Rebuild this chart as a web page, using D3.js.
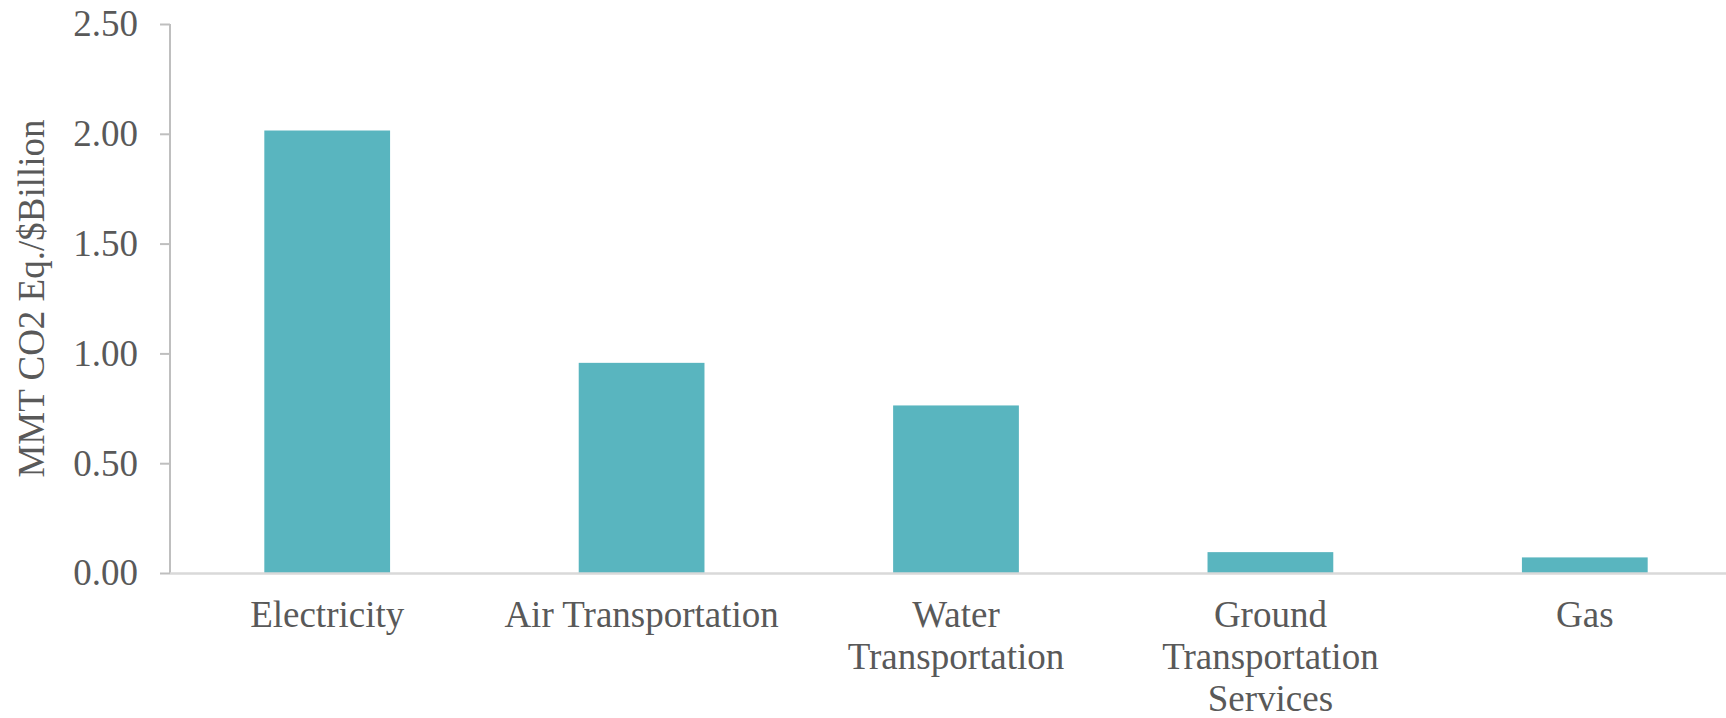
<!DOCTYPE html>
<html>
<head>
<meta charset="utf-8">
<script src="https://cdn.jsdelivr.net/npm/d3@7"></script>
<style>
  body { margin: 0; background: #fff; }
  text { font-family: "Liberation Serif", "DejaVu Serif", serif; fill: #595959; }
</style>
</head>
<body>
<script>
var categories = [["Electricity"], ["Air Transportation"], ["Water", "Transportation"], ["Ground", "Transportation", "Services"], ["Gas"]];
var values = [2.015, 0.957, 0.763, 0.095, 0.071];
var yTicks = [0, 0.5, 1.0, 1.5, 2.0, 2.5];
var yTitle = "MMT CO2 Eq./$Billion";

var W = 1726, H = 718;
var margin = { top: 24, left: 170 },
    plotW = 1572,
    plotH = 549;

var svg = d3.select("body").append("svg")
    .attr("width", W)
    .attr("height", H);

var g = svg.append("g")
    .attr("transform", "translate(" + margin.left + "," + margin.top + ")");

var x = d3.scaleBand()
    .domain(d3.range(categories.length))
    .range([0, plotW])
    .paddingInner(0.6)
    .paddingOuter(0.3);

var y = d3.scaleLinear()
    .domain([0, 2.5])
    .range([plotH, 0]);

// bars
g.selectAll("rect.bar")
    .data(values)
    .enter().append("rect")
    .attr("class", "bar")
    .attr("x", function (d, i) { return x(i); })
    .attr("width", x.bandwidth())
    .attr("y", function (d) { return y(d); })
    .attr("height", function (d) { return plotH - y(d); })
    .attr("fill", "#59b5bf");

// y axis
var yAxis = g.append("g")
    .call(d3.axisLeft(y)
        .tickValues(yTicks)
        .tickSize(10)
        .tickPadding(22)
        .tickFormat(d3.format(".2f")));
yAxis.attr("font-family", null);
yAxis.select(".domain").attr("stroke", "#bfbfbf").attr("stroke-width", 2).attr("d", "M0,0V" + plotH);
yAxis.selectAll(".tick line").attr("stroke", "#bfbfbf").attr("stroke-width", 2);
yAxis.selectAll(".tick text")
    .attr("fill", "#595959")
    .style("font-size", "37px");

// x axis line
g.append("line")
    .attr("x1", 0)
    .attr("x2", W - margin.left)
    .attr("y1", plotH + 0.5)
    .attr("y2", plotH + 0.5)
    .attr("stroke", "#d9d9d9")
    .attr("stroke-width", 2.5);

// category labels
var lab = g.selectAll("text.cat")
    .data(categories)
    .enter().append("text")
    .attr("class", "cat")
    .attr("text-anchor", "middle")
    .attr("font-size", "37px")
    .attr("x", function (d, i) { return x(i) + x.bandwidth() / 2; })
    .attr("y", plotH + 54);

lab.selectAll("tspan")
    .data(function (d) { return d; })
    .enter().append("tspan")
    .attr("x", function () { return d3.select(this.parentNode).attr("x"); })
    .attr("dy", function (d, i) { return i === 0 ? 0 : 42; })
    .text(function (d) { return d; });

// y title
svg.append("text")
    .attr("transform", "translate(44," + (margin.top + plotH / 2) + ") rotate(-90)")
    .attr("text-anchor", "middle")
    .attr("font-size", "37px")
    .text(yTitle);
</script>
</body>
</html>
